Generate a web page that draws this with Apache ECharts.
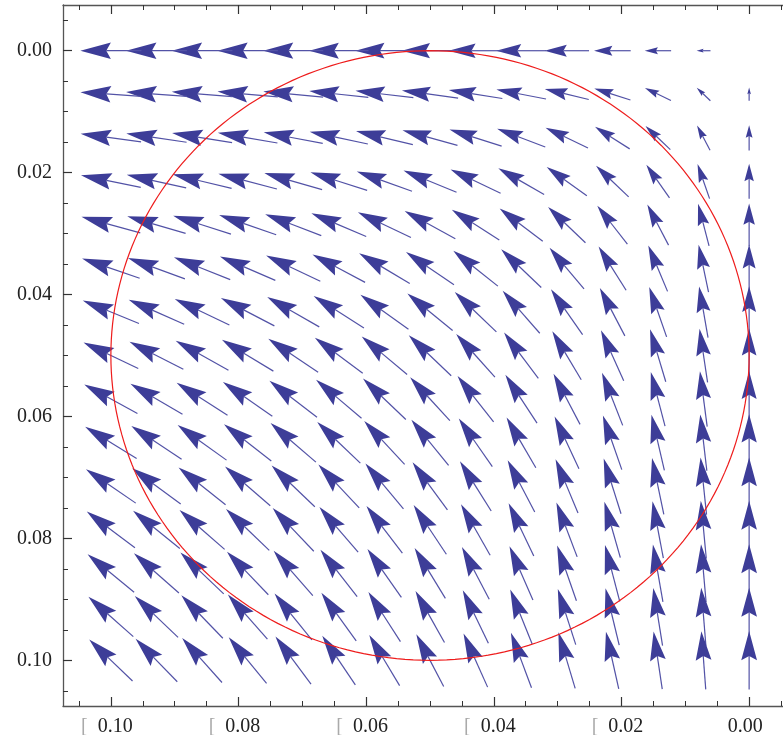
<!DOCTYPE html>
<html>
<head>
<meta charset="utf-8">
<script src="https://cdn.jsdelivr.net/npm/echarts@6/dist/echarts.min.js"></script>
<style>
  html, body { margin: 0; padding: 0; background: #fff; }
  #chart { width: 783px; height: 735px; }
</style>
</head>
<body>
<div id="chart"></div>
<script>
  // grid points of the field (same spacing on both axes)
  const xs = [0, 0.00714, 0.01429, 0.02143, 0.02857, 0.03571, 0.04286, 0.05, 0.05714, 0.06429, 0.07143, 0.07857, 0.08571, 0.09286, 0.1]
  const ys = [0, 0.00714, 0.01429, 0.02143, 0.02857, 0.03571, 0.04286, 0.05, 0.05714, 0.06429, 0.07143, 0.07857, 0.08571, 0.09286, 0.1]
  // vector components: u depends on the column, v on the row
  const uCol = [0, 0.00714, 0.01429, 0.02143, 0.02857, 0.03571, 0.04286, 0.05, 0.05714, 0.06429, 0.07143, 0.07857, 0.08571, 0.09286, 0.1]
  const vRow = [0, -0.00714, -0.01429, -0.02143, -0.02857, -0.03571, -0.04286, -0.05, -0.05714, -0.06429, -0.07143, -0.07857, -0.08571, -0.09286, -0.1]

  // red circle
  const circleCenter = [0.05, 0.05]
  const circleRadius = [0.05]

  // ticks
  const xTickValues = [0.1, 0.08, 0.06, 0.04, 0.02, 0]
  const xTickLabels = ['[  0.10', '[  0.08', '[  0.06', '[  0.04', '[  0.02', '0.00']
  const yTickValues = [0, 0.02, 0.04, 0.06, 0.08, 0.1]
  const yTickLabels = ['0.00', '0.02', '0.04', '0.06', '0.08', '0.10']
  const minorTicks = [-0.005, 0, 0.005, 0.01, 0.015, 0.02, 0.025, 0.03, 0.035, 0.04, 0.045, 0.05,
    0.055, 0.06, 0.065, 0.07, 0.075, 0.08, 0.085, 0.09, 0.095, 0.1, 0.105]

  const arrowData = []
  xs.forEach((x, i) => {
    ys.forEach((y, j) => {
      arrowData.push([x, y, uCol[i], vRow[j]])
    })
  })

  const serif = 'Liberation Serif'
  const lineColor = '#555'
  const tickColor = '#333'

  function lookup(vals, labels, v) {
    const k = vals.findIndex(t => Math.abs(t - v) < 1e-9)
    return k < 0 ? '' : labels[k]
  }

  function majorAxis(pos, vals, showLabel, isX) {
    const ax = {
      type: 'value',
      position: pos,
      inverse: true,
      min: -0.0075,
      max: 0.1075,
      axisLine: { show: true, onZero: false, lineStyle: { color: lineColor, width: 1.3 } },
      axisTick: { show: true, inside: true, length: 9, customValues: vals, lineStyle: { color: tickColor, width: 1.2 } },
      splitLine: { show: false },
      axisLabel: { show: false }
    }
    if (showLabel) {
      ax.axisLabel = {
        show: true,
        customValues: vals,
        margin: 11,
        fontFamily: serif,
        fontSize: 20,
        color: '#222'
      }
      if (isX) {
        ax.axisLabel.padding = [0, 8, 0, 0]
        ax.axisLabel.formatter = v => {
          const s = lookup(xTickValues, xTickLabels, v)
          if (s.charAt(0) === '[') return '{b|[}{n|' + s.slice(1) + '}'
          return '{n|' + s + '}'
        }
        ax.axisLabel.rich = {
          b: { fontFamily: serif, fontSize: 20, color: '#aaa' },
          n: { fontFamily: serif, fontSize: 20, color: '#222' }
        }
      } else {
        ax.axisLabel.formatter = v => lookup(yTickValues, yTickLabels, v)
      }
    }
    return ax
  }

  function minorAxis(pos) {
    return {
      type: 'value',
      position: pos,
      inverse: true,
      min: -0.0075,
      max: 0.1075,
      axisLine: { show: false, onZero: false },
      axisTick: { show: true, inside: true, length: 5, customValues: minorTicks, lineStyle: { color: tickColor, width: 1 } },
      splitLine: { show: false },
      axisLabel: { show: false }
    }
  }

  // arrow length in data units, saturating for large vectors
  const arrowMax = 0.0096
  const arrowSat = 0.031

  const chart = echarts.init(document.getElementById('chart'))
  chart.setOption({
    backgroundColor: '#fff',
    animation: false,
    grid: { left: 63, top: 5, width: 734, height: 701, containLabel: false, outerBoundsMode: 'none' },
    xAxis: [
      majorAxis('bottom', xTickValues, true, true),
      minorAxis('bottom'),
      majorAxis('top', xTickValues, false, true),
      minorAxis('top')
    ],
    yAxis: [
      majorAxis('left', yTickValues, true, false),
      minorAxis('left')
    ],
    series: [
      {
        type: 'custom',
        xAxisIndex: 0,
        yAxisIndex: 0,
        data: arrowData,
        encode: { x: 0, y: 1 },
        clip: false,
        z: 2,
        renderItem: (params, api) => {
          const x = api.value(0), y = api.value(1), u = api.value(2), v = api.value(3)
          const m = Math.hypot(u, v)
          if (m === 0) return
          const l = arrowMax * Math.tanh(m / arrowSat)
          const dx = u / m * l / 2, dy = v / m * l / 2
          const tail = api.coord([x - dx, y - dy])
          const tip = api.coord([x + dx, y + dy])
          const L = Math.hypot(tip[0] - tail[0], tip[1] - tail[1])
          const ex = (tip[0] - tail[0]) / L, ey = (tip[1] - tail[1]) / L
          const nx = -ey, ny = ex
          const H = 0.5 * L, W = 0.135 * L
          const back = [tip[0] - ex * H, tip[1] - ey * H]
          const notch = [tip[0] - ex * H * 0.85, tip[1] - ey * H * 0.85]
          return {
            type: 'group',
            children: [
              {
                type: 'line',
                shape: { x1: tail[0], y1: tail[1], x2: notch[0], y2: notch[1] },
                style: { stroke: '#5252a6', lineWidth: 1.2 }
              },
              {
                type: 'polygon',
                shape: { points: [tip, [back[0] + nx * W, back[1] + ny * W], notch, [back[0] - nx * W, back[1] - ny * W]] },
                style: { fill: '#3d3d98' }
              }
            ]
          }
        }
      },
      {
        type: 'custom',
        xAxisIndex: 0,
        yAxisIndex: 0,
        data: [[circleCenter[0], circleCenter[1], circleRadius[0]]],
        encode: { x: 0, y: 1 },
        clip: false,
        z: 5,
        renderItem: (params, api) => {
          const cx = api.value(0), cy = api.value(1), r = api.value(2)
          const pts = []
          for (let k = 0; k <= 240; k++) {
            const t = k / 240 * Math.PI * 2
            pts.push(api.coord([cx + r * Math.cos(t), cy + r * Math.sin(t)]))
          }
          return {
            type: 'polyline',
            shape: { points: pts },
            style: { stroke: '#ee1c1c', lineWidth: 1.2, fill: null }
          }
        }
      }
    ]
  })
</script>
</body>
</html>
